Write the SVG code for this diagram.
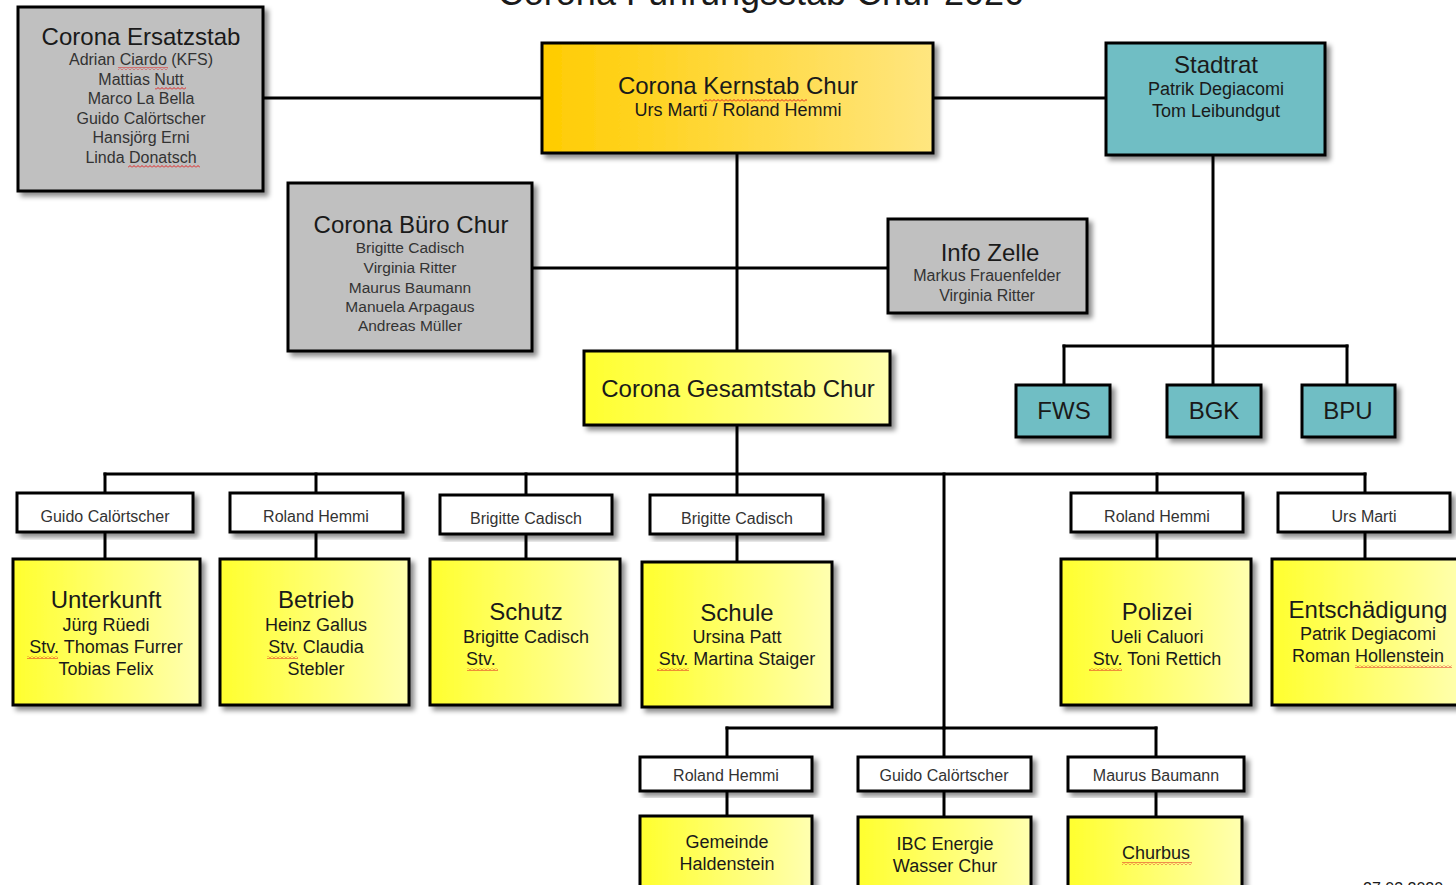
<svg xmlns="http://www.w3.org/2000/svg" width="1456" height="885" viewBox="0 0 1456 885">
<style>
text{font-family:"Liberation Sans",Arial,sans-serif;text-anchor:middle;fill:#1a1a1a}
.t{font-size:24px}
.n{font-size:18px}
.s{font-size:16px;fill:#333}
.s2{font-size:15.5px;fill:#333}
.box{stroke:#000;stroke-width:3;filter:url(#sh)}
.gray{fill:#c0c0c0}
.teal{fill:#70bec4}
.white{fill:#fff}
.yel{fill:url(#gy)}
.conn line{stroke:#000;stroke-width:3;stroke-linecap:square}
.sq{fill:url(#sq)}
</style>
<defs>
<filter id="sh" x="-10%" y="-10%" width="130%" height="130%">
<feDropShadow dx="4" dy="4" stdDeviation="2.5" flood-color="#000" flood-opacity="0.45"/>
</filter>
<linearGradient id="gy" x1="0" y1="0" x2="1" y2="0">
<stop offset="0" stop-color="#ffff2e"/>
<stop offset="1" stop-color="#ffffb0"/>
</linearGradient>
<linearGradient id="go" x1="0" y1="0" x2="1" y2="0">
<stop offset="0" stop-color="#ffcc00"/>
<stop offset="1" stop-color="#ffe680"/>
</linearGradient>
<pattern id="sq" width="4" height="3" patternUnits="userSpaceOnUse">
<path d="M0,2.5 L2,0.5 L4,2.5" fill="none" stroke="#e02020" stroke-width="1"/>
</pattern>
</defs>
<rect width="1456" height="885" fill="#fff"/>
<text x="761" y="5" style="font-size:36px">Corona Führungsstab Chur 2020</text>

<g class="conn">
<line x1="263" y1="98" x2="542" y2="98"/>
<line x1="933" y1="98" x2="1106" y2="98"/>
<line x1="737" y1="153" x2="737" y2="351"/>
<line x1="532" y1="268" x2="888" y2="268"/>
<line x1="1213" y1="155" x2="1213" y2="385"/>
<line x1="1064" y1="346" x2="1347" y2="346"/>
<line x1="1064" y1="346" x2="1064" y2="385"/>
<line x1="1347" y1="346" x2="1347" y2="385"/>
<line x1="737" y1="425" x2="737" y2="495"/>
<line x1="105" y1="474" x2="1365" y2="474"/>
<line x1="105" y1="474" x2="105" y2="493"/>
<line x1="316" y1="474" x2="316" y2="493"/>
<line x1="526" y1="474" x2="526" y2="495"/>
<line x1="1157" y1="474" x2="1157" y2="493"/>
<line x1="1365" y1="474" x2="1365" y2="493"/>
<line x1="105" y1="532" x2="105" y2="559"/>
<line x1="316" y1="532" x2="316" y2="559"/>
<line x1="526" y1="534" x2="526" y2="559"/>
<line x1="737" y1="534" x2="737" y2="562"/>
<line x1="1157" y1="532" x2="1157" y2="559"/>
<line x1="1365" y1="532" x2="1365" y2="559"/>
<line x1="944" y1="474" x2="944" y2="728"/>
<line x1="727" y1="728" x2="1156" y2="728"/>
<line x1="727" y1="728" x2="727" y2="757"/>
<line x1="944" y1="728" x2="944" y2="757"/>
<line x1="1156" y1="728" x2="1156" y2="757"/>
<line x1="727" y1="791" x2="727" y2="816"/>
<line x1="944" y1="791" x2="944" y2="817"/>
<line x1="1156" y1="791" x2="1156" y2="817"/>
</g>

<g id="ersatzstab">
<rect class="box gray" x="18" y="7" width="245" height="184"/>
<text class="t" x="141" y="45">Corona Ersatzstab</text>
<text class="s" x="141" y="65">Adrian Ciardo (KFS)</text>
<text class="s" x="141" y="85">Mattias Nutt</text>
<text class="s" x="141" y="104">Marco La Bella</text>
<text class="s" x="141" y="124">Guido Calörtscher</text>
<text class="s" x="141" y="143">Hansjörg Erni</text>
<text class="s" x="141" y="163">Linda Donatsch</text>
<rect class="sq" x="118" y="67" width="50" height="3"/>
<rect class="sq" x="155" y="87" width="31" height="3"/>
<rect class="sq" x="128" y="165" width="72" height="3"/>
</g>

<g id="kernstab">
<rect class="box" fill="url(#go)" x="542" y="43" width="391" height="110"/>
<text class="t" x="738" y="94">Corona Kernstab Chur</text>
<text class="n" x="738" y="116">Urs Marti / Roland Hemmi</text>
<rect class="sq" x="703" y="99" width="104" height="3"/>
</g>

<g id="stadtrat">
<rect class="box teal" x="1106" y="43" width="219" height="112"/>
<text class="t" x="1216" y="73">Stadtrat</text>
<text class="n" x="1216" y="95">Patrik Degiacomi</text>
<text class="n" x="1216" y="117">Tom Leibundgut</text>
</g>

<g id="buero">
<rect class="box gray" x="288" y="183" width="244" height="168"/>
<text class="t" x="411" y="233">Corona Büro Chur</text>
<text class="s2" x="410" y="253">Brigitte Cadisch</text>
<text class="s2" x="410" y="273">Virginia Ritter</text>
<text class="s2" x="410" y="293">Maurus Baumann</text>
<text class="s2" x="410" y="312">Manuela Arpagaus</text>
<text class="s2" x="410" y="331">Andreas Müller</text>
</g>

<g id="infozelle">
<rect class="box gray" x="888" y="219" width="199" height="94"/>
<text class="t" x="990" y="261">Info Zelle</text>
<text class="s" x="987" y="281">Markus Frauenfelder</text>
<text class="s" x="987" y="301">Virginia Ritter</text>
</g>

<g id="gesamtstab">
<rect class="box yel" x="584" y="351" width="306" height="74"/>
<text class="t" x="738" y="397">Corona Gesamtstab Chur</text>
</g>

<g id="fws">
<rect class="box teal" x="1016" y="385" width="94" height="52"/>
<text class="t" x="1064" y="419">FWS</text>
</g>
<g id="bgk">
<rect class="box teal" x="1167" y="385" width="94" height="52"/>
<text class="t" x="1214" y="419">BGK</text>
</g>
<g id="bpu">
<rect class="box teal" x="1302" y="385" width="93" height="52"/>
<text class="t" x="1348" y="419">BPU</text>
</g>

<g id="lbl-unterkunft">
<rect class="box white" x="17" y="493" width="176" height="39"/>
<text class="s" x="105" y="522">Guido Calörtscher</text>
</g>
<g id="lbl-betrieb">
<rect class="box white" x="230" y="493" width="173" height="39"/>
<text class="s" x="316" y="522">Roland Hemmi</text>
</g>
<g id="lbl-schutz">
<rect class="box white" x="440" y="495" width="172" height="39"/>
<text class="s" x="526" y="524">Brigitte Cadisch</text>
</g>
<g id="lbl-schule">
<rect class="box white" x="650" y="495" width="173" height="39"/>
<text class="s" x="737" y="524">Brigitte Cadisch</text>
</g>
<g id="lbl-polizei">
<rect class="box white" x="1071" y="493" width="172" height="39"/>
<text class="s" x="1157" y="522">Roland Hemmi</text>
</g>
<g id="lbl-entschaedigung">
<rect class="box white" x="1278" y="493" width="172" height="39"/>
<text class="s" x="1364" y="522">Urs Marti</text>
</g>

<g id="unterkunft">
<rect class="box yel" x="13" y="559" width="187" height="146"/>
<text class="t" x="106" y="608">Unterkunft</text>
<text class="n" x="106" y="631">Jürg Rüedi</text>
<text class="n" x="106" y="653">Stv. Thomas Furrer</text>
<text class="n" x="106" y="675">Tobias Felix</text>
<rect class="sq" x="27" y="656" width="31" height="3"/>
</g>
<g id="betrieb">
<rect class="box yel" x="220" y="559" width="189" height="146"/>
<text class="t" x="316" y="608">Betrieb</text>
<text class="n" x="316" y="631">Heinz Gallus</text>
<text class="n" x="316" y="653">Stv. Claudia</text>
<text class="n" x="316" y="675">Stebler</text>
<rect class="sq" x="267" y="656" width="31" height="3"/>
</g>
<g id="schutz">
<rect class="box yel" x="430" y="559" width="190" height="146"/>
<text class="t" x="526" y="620">Schutz</text>
<text class="n" x="526" y="643">Brigitte Cadisch</text>
<text class="n" x="466" y="665" style="text-anchor:start">Stv.</text>
<rect class="sq" x="467" y="668" width="31" height="3"/>
</g>
<g id="schule">
<rect class="box yel" x="642" y="562" width="190" height="145"/>
<text class="t" x="737" y="621">Schule</text>
<text class="n" x="737" y="643">Ursina Patt</text>
<text class="n" x="737" y="665">Stv. Martina Staiger</text>
<rect class="sq" x="657" y="668" width="32" height="3"/>
</g>
<g id="polizei">
<rect class="box yel" x="1061" y="559" width="190" height="146"/>
<text class="t" x="1157" y="620">Polizei</text>
<text class="n" x="1157" y="643">Ueli Caluori</text>
<text class="n" x="1157" y="665">Stv. Toni Rettich</text>
<rect class="sq" x="1089" y="668" width="33" height="3"/>
</g>
<g id="entschaedigung">
<rect class="box yel" x="1272" y="559" width="192" height="146"/>
<text class="t" x="1368" y="618">Entschädigung</text>
<text class="n" x="1368" y="640">Patrik Degiacomi</text>
<text class="n" x="1368" y="662">Roman Hollenstein</text>
<rect class="sq" x="1355" y="665" width="97" height="3"/>
</g>

<g id="lbl-gemeinde">
<rect class="box white" x="640" y="757" width="172" height="34"/>
<text class="s" x="726" y="781">Roland Hemmi</text>
</g>
<g id="lbl-ibc">
<rect class="box white" x="858" y="757" width="173" height="34"/>
<text class="s" x="944" y="781">Guido Calörtscher</text>
</g>
<g id="lbl-churbus">
<rect class="box white" x="1068" y="757" width="176" height="34"/>
<text class="s" x="1156" y="781">Maurus Baumann</text>
</g>

<g id="gemeinde">
<rect class="box yel" x="640" y="816" width="172" height="100"/>
<text class="n" x="727" y="848">Gemeinde</text>
<text class="n" x="727" y="870">Haldenstein</text>
</g>
<g id="ibc">
<rect class="box yel" x="858" y="817" width="173" height="100"/>
<text class="n" x="945" y="850">IBC Energie</text>
<text class="n" x="945" y="872">Wasser Chur</text>
</g>
<g id="churbus">
<rect class="box yel" x="1068" y="817" width="174" height="100"/>
<text class="n" x="1156" y="859">Churbus</text>
<rect class="sq" x="1122" y="862" width="70" height="3"/>
</g>

<text x="1363" y="894" style="font-size:16px;text-anchor:start">27.03.2020</text>
</svg>
